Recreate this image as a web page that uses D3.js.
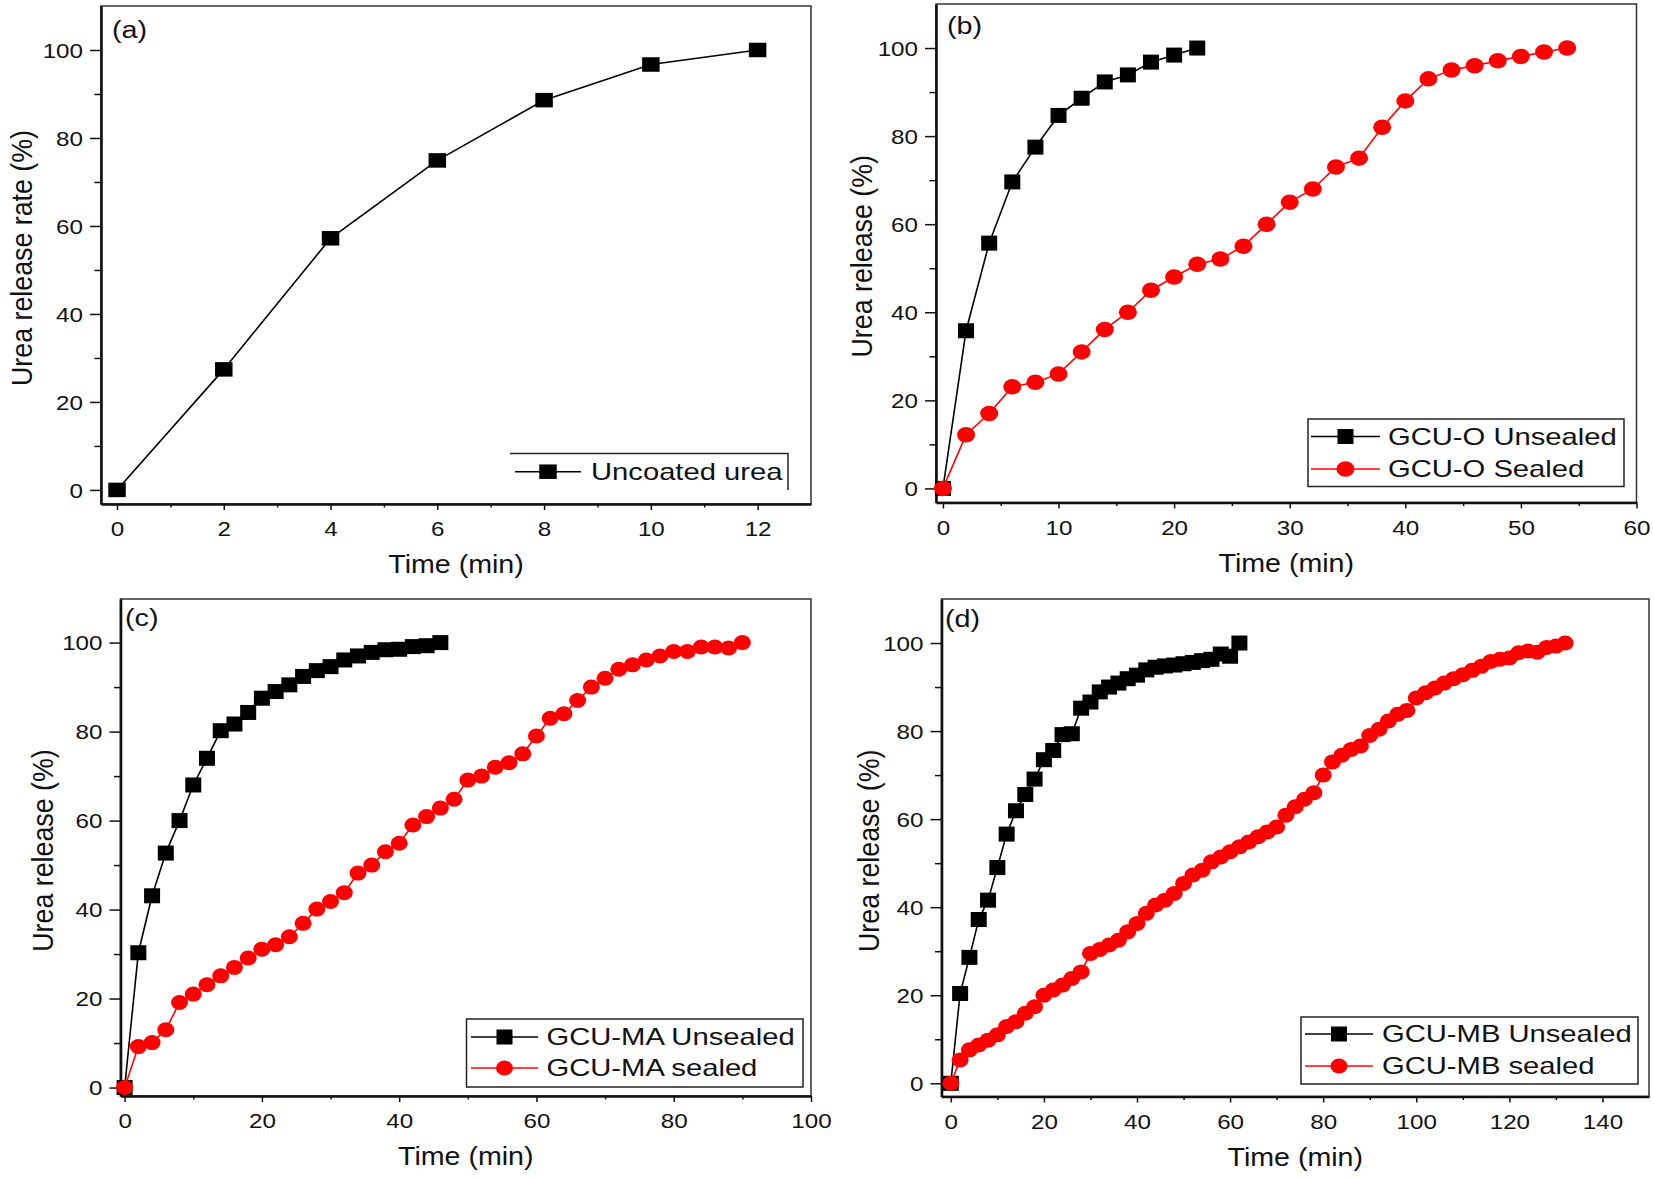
<!DOCTYPE html>
<html>
<head>
<meta charset="utf-8">
<script src="https://cdn.jsdelivr.net/npm/d3@7"></script>
<style>
  body { margin: 0; background: #fff; }
  text { font-family: "Liberation Sans", Arial, sans-serif; fill: #111; }
</style>
</head>
<body>
<script>
// ---- data ----
// (a) uncoated urea
const timeUncoated = [0, 2, 4, 6, 8, 10, 12];
const uncoated = [0, 27.4, 57.2, 74.9, 88.6, 96.7, 100];

// (b) GCU-O
const timeOUnsealed = [0, 2, 4, 6, 8, 10, 12, 14, 16, 18, 20, 22];
const oUnsealed = [0, 35.8, 55.7, 69.6, 77.5, 84.7, 88.6, 92.3, 93.9, 96.8, 98.4, 100];
const timeOSealed = [0, 2, 4, 6, 8, 10, 12, 14, 16, 18, 20, 22, 24, 26, 28, 30, 32, 34, 36, 38, 40, 42, 44, 46, 48, 50, 52, 54];
const oSealed = [0, 12.2, 17.0, 23.1, 24.1, 26.0, 31.0, 36.1, 40.0, 45.0, 48.0, 50.9, 52.1, 55.0, 60.0, 65.0, 68.0, 73.0, 75.0, 82.0, 88.0, 93.0, 95.0, 96.0, 97.1, 98.1, 99.1, 100];

// (c) GCU-MA
const timeMAUnsealed = [0, 2, 4, 6, 8, 10, 12, 14, 16, 18, 20, 22, 24, 26, 28, 30, 32, 34, 36, 38, 40, 42, 44, 46];
const maUnsealed = [0, 30.3, 43.1, 52.7, 60.0, 68.0, 74.0, 80.2, 81.7, 84.3, 87.5, 89.0, 90.5, 92.4, 93.7, 94.6, 96.1, 97.0, 97.8, 98.4, 98.5, 99.1, 99.3, 100];
const timeMASealed = [0, 2, 4, 6, 8, 10, 12, 14, 16, 18, 20, 22, 24, 26, 28, 30, 32, 34, 36, 38, 40, 42, 44, 46, 48, 50, 52, 54, 56, 58, 60, 62, 64, 66, 68, 70, 72, 74, 76, 78, 80, 82, 84, 86, 88, 90];
const maSealed = [0, 9.2, 10.1, 13.0, 19.1, 21.0, 23.1, 25.1, 27.0, 29.1, 31.1, 32.1, 33.9, 36.9, 40.1, 41.8, 43.8, 48.2, 50.0, 53.0, 54.9, 59.0, 60.9, 62.8, 64.8, 69.1, 70.0, 72.0, 73.0, 75.0, 79.0, 83.0, 84.0, 87.0, 90.0, 92.0, 94.0, 95.0, 96.1, 97.0, 98.0, 98.0, 99.0, 99.0, 98.8, 100];

// (d) GCU-MB
const timeMBUnsealed = [0, 2, 4, 6, 8, 10, 12, 14, 16, 18, 20, 22, 24, 26, 28, 30, 32, 34, 36, 38, 40, 42, 44, 46, 48, 50, 52, 54, 56, 58, 60, 62];
const mbUnsealed = [0, 20.4, 28.6, 37.2, 41.6, 49.0, 56.6, 61.9, 65.6, 69.1, 73.5, 75.6, 79.2, 79.4, 85.2, 86.6, 88.9, 90.0, 90.9, 91.9, 92.7, 93.9, 94.5, 94.8, 95.0, 95.3, 95.6, 96.0, 96.3, 97.5, 97.0, 100];
const timeMBSealed = [0, 2, 4, 6, 8, 10, 12, 14, 16, 18, 20, 22, 24, 26, 28, 30, 32, 34, 36, 38, 40, 42, 44, 46, 48, 50, 52, 54, 56, 58, 60, 62, 64, 66, 68, 70, 72, 74, 76, 78, 80, 82, 84, 86, 88, 90, 92, 94, 96, 98, 100, 102, 104, 106, 108, 110, 112, 114, 116, 118, 120, 122, 124, 126, 128, 130, 132];
const mbSealed = [0, 5.3, 7.6, 8.7, 9.8, 11.0, 12.9, 14.0, 15.9, 17.4, 20.0, 21.2, 22.3, 23.8, 25.3, 29.5, 30.4, 31.4, 32.5, 34.4, 36.3, 38.6, 40.5, 41.6, 43.1, 45.4, 47.3, 48.4, 50.3, 51.4, 52.6, 53.7, 54.8, 56.0, 57.1, 58.2, 60.9, 62.8, 64.5, 66.0, 70.0, 73.0, 74.5, 75.8, 76.6, 79.0, 80.4, 82.3, 83.8, 84.7, 87.5, 88.7, 89.8, 90.9, 91.9, 92.8, 93.8, 94.7, 95.8, 96.3, 96.6, 97.8, 98.2, 97.9, 99.0, 99.3, 100];

// ticks
const ticksY = [0, 20, 40, 60, 80, 100];
const ticksA = [0, 2, 4, 6, 8, 10, 12];
const ticksB = [0, 10, 20, 30, 40, 50, 60];
const ticksC = [0, 20, 40, 60, 80, 100];
const ticksD = [0, 20, 40, 60, 80, 100, 120, 140];

const W = 1654, H = 1180;
const svg = d3.select("body").append("svg")
    .attr("width", W)
    .attr("height", H);

// the source picture is stretched sideways, so text gets a little x-scale
const SX_TICK = 1.18, SX_TITLE = 1.1, SX_LEG = 1.27;
const TICK_FS = 20.5;

const mid = a => a.slice(1).map((v, i) => (v + a[i]) / 2);

function drawPanel(p) {
  const x = d3.scaleLinear().domain(p.xdom).range([p.left, p.right]);
  const y = d3.scaleLinear().domain(p.ydom).range([p.bottom, p.top]);
  const g = svg.append("g");

  g.append("rect")
      .attr("x", p.left).attr("y", p.top)
      .attr("width", p.right - p.left).attr("height", p.bottom - p.top)
      .attr("fill", "none").attr("stroke", "#333").attr("stroke-width", 1.5);

  // minor ticks
  g.append("g")
      .attr("transform", `translate(0,${p.bottom})`)
      .call(d3.axisBottom(x).tickValues(mid(p.xticks)).tickSize(3.5).tickSizeOuter(0).tickFormat(""))
      .call(s => s.select(".domain").remove());
  g.append("g")
      .attr("transform", `translate(${p.left},0)`)
      .call(d3.axisLeft(y).tickValues(mid(ticksY)).tickSize(6.5).tickSizeOuter(0).tickFormat(""))
      .call(s => s.select(".domain").remove());

  // major ticks + labels
  const gx = g.append("g")
      .attr("transform", `translate(0,${p.bottom})`)
      .call(d3.axisBottom(x).tickValues(p.xticks).tickSize(6).tickSizeOuter(0));
  gx.selectAll(".tick text")
      .attr("y", 17.5)
      .attr("font-size", TICK_FS)
      .attr("transform", `scale(${SX_TICK},1)`);

  const gy = g.append("g")
      .attr("transform", `translate(${p.left},0)`)
      .call(d3.axisLeft(y).tickValues(ticksY).tickSize(11).tickSizeOuter(0));
  gy.selectAll(".tick text")
      .attr("x", -18 / SX_TICK)
      .attr("dy", "0.36em")
      .attr("font-size", TICK_FS)
      .attr("transform", `scale(${SX_TICK},1)`);

  g.selectAll(".domain").attr("stroke", "#111").attr("stroke-width", 2.6);
  g.selectAll(".tick line").attr("stroke", "#111").attr("stroke-width", 1.5);

  // series
  const line = d3.line().x(d => x(d[0])).y(d => y(d[1]));
  p.series.forEach(s => {
    const pts = s.t.map((t, i) => [t, s.v[i]]);
    g.append("path")
        .attr("d", line(pts))
        .attr("fill", "none")
        .attr("stroke", s.color)
        .attr("stroke-width", 1.6);
    drawMarkers(g, pts.map(d => [x(d[0]), y(d[1])]), s);
  });

  // panel letter
  g.append("text")
      .attr("transform", `translate(${p.label[1]},${p.label[2]}) scale(1.25,1)`)
      .attr("font-size", 23)
      .text(p.label[0]);

  // axis titles
  g.append("text")
      .attr("transform", `translate(${(p.left + p.right) / 2},${p.bottom + 69}) scale(${SX_TITLE},1)`)
      .attr("text-anchor", "middle")
      .attr("font-size", 26)
      .text("Time (min)");
  g.append("text")
      .attr("transform", `translate(${p.left - p.ytitleOff},${(p.top + p.bottom) / 2 + 3}) scale(${SX_TITLE},1) rotate(-90)`)
      .attr("text-anchor", "middle")
      .attr("dy", "0.35em")
      .attr("font-size", 26.8)
      .text(p.ytitle);

  // legend
  const L = p.legend;
  if (L.edges === "tr") {
    g.append("path")
        .attr("d", `M${L.x0},${L.y0}H${L.x1}V${L.y1}`)
        .attr("fill", "none").attr("stroke", "#222").attr("stroke-width", 1.5);
  } else {
    g.append("rect")
        .attr("x", L.x0).attr("y", L.y0)
        .attr("width", L.x1 - L.x0).attr("height", L.y1 - L.y0)
        .attr("fill", "#fff").attr("stroke", "#222").attr("stroke-width", 1.5);
  }
  p.series.forEach((s, i) => {
    const cy = L.rows[i];
    g.append("line")
        .attr("x1", L.lx0).attr("x2", L.lx1)
        .attr("y1", cy).attr("y2", cy)
        .attr("stroke", s.color).attr("stroke-width", 1.6);
    drawMarkers(g, [[(L.lx0 + L.lx1) / 2, cy]], s);
    g.append("text")
        .attr("transform", `translate(${L.tx},${cy + 8.3}) scale(${SX_LEG},1)`)
        .attr("font-size", 23)
        .text(s.name);
  });
}

function drawMarkers(g, pts, s) {
  if (s.marker === "square") {
    g.selectAll(null).data(pts).enter().append("rect")
        .attr("x", d => d[0] - s.mw / 2)
        .attr("y", d => d[1] - s.mh / 2)
        .attr("width", s.mw).attr("height", s.mh)
        .attr("fill", s.color);
  } else {
    g.selectAll(null).data(pts).enter().append("ellipse")
        .attr("cx", d => d[0]).attr("cy", d => d[1])
        .attr("rx", s.mw / 2).attr("ry", s.mh / 2)
        .attr("fill", s.color);
  }
}

drawPanel({
  left: 101, right: 811, top: 6, bottom: 504,
  xdom: [-0.3, 13], ydom: [-3.2, 110], xticks: ticksA,
  label: ["(a)", 112, 38],
  ytitle: "Urea release rate (%)", ytitleOff: 79,
  series: [
    { name: "Uncoated urea", t: timeUncoated, v: uncoated, color: "#000", marker: "square", mw: 17.5, mh: 14.5 }
  ],
  legend: { edges: "tr", x0: 510, x1: 788, y0: 453.5, y1: 490, rows: [471.7], lx0: 515, lx1: 581, tx: 591 }
});

drawPanel({
  left: 936, right: 1636.5, top: 4, bottom: 502.5,
  xdom: [-0.6, 60], ydom: [-3.2, 110], xticks: ticksB,
  label: ["(b)", 947, 34],
  ytitle: "Urea release (%)", ytitleOff: 74,
  series: [
    { name: "GCU-O Unsealed", t: timeOUnsealed, v: oUnsealed, color: "#000", marker: "square", mw: 16, mh: 15 },
    { name: "GCU-O Sealed", t: timeOSealed, v: oSealed, color: "#ff0000", marker: "circle", mw: 18, mh: 15.5 }
  ],
  legend: { x0: 1308, x1: 1624, y0: 419, y1: 486.5, rows: [436.5, 469], lx0: 1311, lx1: 1380, tx: 1388 }
});

drawPanel({
  left: 120.5, right: 811, top: 599, bottom: 1096,
  xdom: [-0.6, 100], ydom: [-1.9, 109.8], xticks: ticksC,
  label: ["(c)", 125, 626],
  ytitle: "Urea release (%)", ytitleOff: 78,
  series: [
    { name: "GCU-MA Unsealed", t: timeMAUnsealed, v: maUnsealed, color: "#000", marker: "square", mw: 16, mh: 15 },
    { name: "GCU-MA sealed", t: timeMASealed, v: maSealed, color: "#ff0000", marker: "circle", mw: 17, mh: 15 }
  ],
  legend: { x0: 466.5, x1: 803, y0: 1019, y1: 1087, rows: [1037, 1068], lx0: 471, lx1: 538, tx: 546.5 }
});

drawPanel({
  left: 941.5, right: 1649, top: 599, bottom: 1096.5,
  xdom: [-2, 150], ydom: [-3, 110], xticks: ticksD,
  label: ["(d)", 945, 627],
  ytitle: "Urea release (%)", ytitleOff: 73,
  series: [
    { name: "GCU-MB Unsealed", t: timeMBUnsealed, v: mbUnsealed, color: "#000", marker: "square", mw: 16, mh: 15 },
    { name: "GCU-MB sealed", t: timeMBSealed, v: mbSealed, color: "#ff0000", marker: "circle", mw: 17, mh: 15 }
  ],
  legend: { x0: 1301, x1: 1638, y0: 1017, y1: 1084, rows: [1034, 1066], lx0: 1305, lx1: 1373, tx: 1382 }
});
</script>
</body>
</html>
